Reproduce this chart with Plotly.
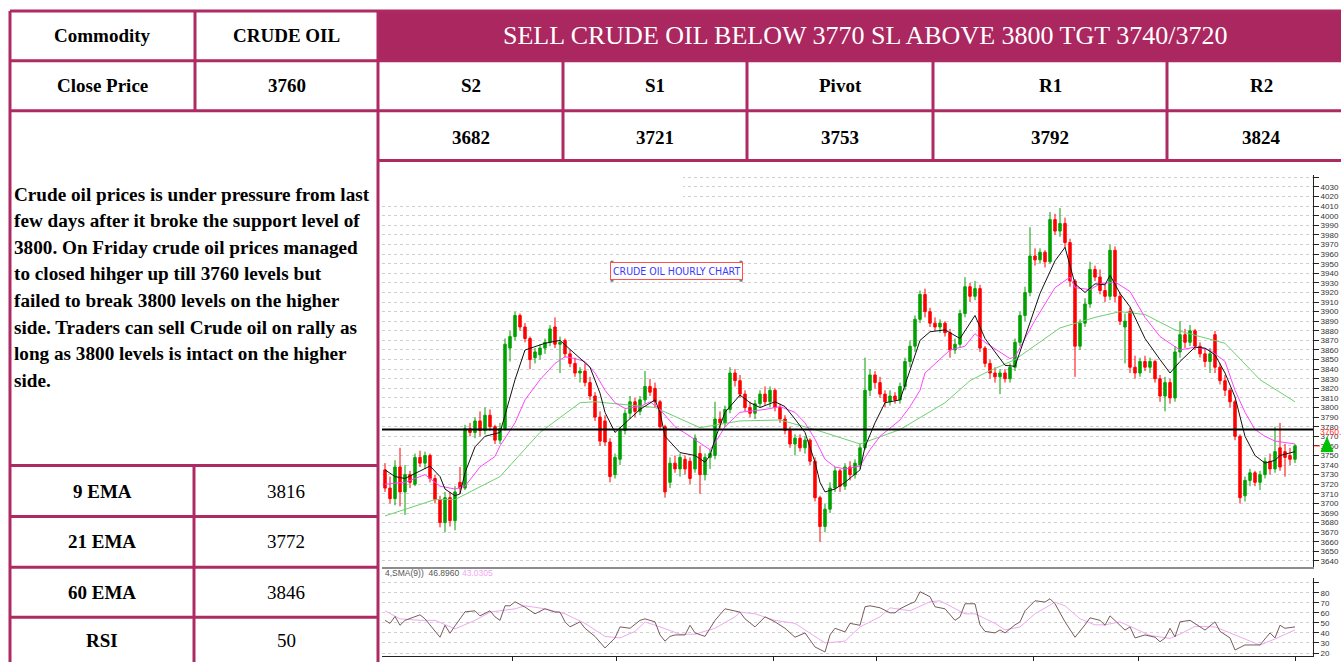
import plotly.graph_objects as go

W, H = 1341, 664

# ---------------- table content ----------------
commodity_label = "Commodity"
commodity_value = "CRUDE OIL"
close_label = "Close Price"
close_value = "3760"
headline = "SELL CRUDE OIL BELOW 3770 SL ABOVE 3800 TGT 3740/3720"
level_names = ["S2", "S1", "Pivot", "R1", "R2"]
level_values = ["3682", "3721", "3753", "3792", "3824"]
indicator_names = ["9 EMA", "21 EMA", "60 EMA", "RSI"]
indicator_values = ["3816", "3772", "3846", "50"]
commentary = [
    "Crude oil prices is under pressure from last",
    "few days after it broke the support level of",
    "3800. On Friday crude oil prices managed",
    "to closed hihger up till 3760 levels but",
    "failed to break 3800 levels on the higher",
    "side. Traders can sell Crude oil on rally as",
    "long as 3800 levels is intact on the higher",
    "side.",
]
chart_title = "CRUDE OIL HOURLY CHART"
rsi_caption = "4,SMA(9))  46.8960"
rsi_sma_caption = "43.0305"
last_price = 3760
last_price_label = "3760.0"
hline_level = 3777

# ---------------- hourly candles ----------------
opens = [3735,3716,3705,3738,3712,3730,3720,3748,3742,3750,
         3726,3704,3680,3706,3682,3722,3716,3778,3774,3786,
         3776,3792,3780,3766,3778,3862,3874,3896,3884,3872,
         3852,3855,3862,3868,3884,3866,3870,3856,3846,3836,
         3838,3826,3812,3790,3786,3764,3730,3746,3776,3794,
         3806,3796,3808,3822,3820,3806,3780,3722,3742,3736,
         3746,3744,3736,3752,3730,3748,3750,3788,3784,3798,
         3836,3828,3814,3800,3794,3804,3814,3806,3818,3800,
         3788,3776,3762,3768,3758,3766,3744,3706,3676,3694,
         3716,3734,3718,3738,3730,3740,3758,3818,3834,3826,
         3814,3806,3812,3808,3822,3848,3864,3892,3918,3900,
         3888,3884,3888,3878,3860,3866,3898,3926,3916,3924,
         3862,3846,3836,3832,3836,3830,3842,3868,3896,3920,
         3958,3954,3962,3952,3996,3984,3992,3972,3932,3864,
         3888,3908,3944,3936,3922,3916,3964,3916,3884,3900,
         3842,3836,3848,3842,3848,3830,3812,3826,3810,3858,
         3876,3868,3880,3864,3856,3848,3876,3842,3828,3818,
         3806,3770,3708,3724,3732,3722,3730,3744,3736,3758,
         3754,3750,3746]
highs = [3742,3728,3745,3758,3740,3734,3752,3755,3754,3752,
         3730,3708,3712,3712,3718,3738,3782,3784,3790,3796,
         3800,3798,3782,3784,3872,3880,3900,3898,3888,3874,
         3862,3866,3872,3886,3894,3874,3872,3860,3852,3842,
         3846,3832,3816,3796,3792,3768,3752,3780,3798,3812,
         3810,3812,3838,3830,3826,3808,3782,3748,3750,3752,
         3750,3748,3772,3760,3752,3756,3806,3796,3802,3842,
         3840,3834,3818,3806,3808,3818,3822,3822,3820,3804,
         3792,3780,3772,3772,3770,3768,3748,3708,3700,3722,
         3738,3736,3742,3744,3746,3762,3852,3840,3838,3832,
         3818,3818,3816,3826,3852,3870,3896,3922,3924,3904,
         3894,3892,3890,3882,3872,3902,3936,3930,3932,3928,
         3864,3850,3842,3840,3840,3846,3872,3900,3926,3988,
         3966,3966,3964,4004,4002,4008,3998,3976,3934,3892,
         3914,3952,3948,3944,3928,3970,3968,3920,3898,3904,
         3854,3852,3854,3852,3850,3834,3832,3830,3864,3890,
         3882,3886,3882,3868,3862,3862,3880,3846,3834,3820,
         3808,3772,3728,3736,3734,3734,3748,3752,3780,3784,
         3762,3758,3762]
lows = [3712,3700,3698,3697,3688,3716,3718,3738,3736,3722,
        3700,3675,3670,3676,3672,3710,3714,3770,3768,3770,
        3772,3776,3762,3762,3776,3848,3870,3880,3868,3840,
        3846,3850,3856,3864,3862,3836,3852,3842,3832,3826,
        3822,3808,3786,3760,3760,3722,3726,3740,3772,3788,
        3790,3792,3804,3812,3800,3776,3706,3716,3732,3728,
        3730,3720,3732,3710,3724,3736,3746,3778,3780,3794,
        3822,3810,3796,3790,3788,3800,3802,3800,3796,3784,
        3772,3758,3750,3754,3752,3740,3702,3660,3670,3690,
        3712,3712,3714,3724,3726,3736,3756,3812,3820,3810,
        3800,3802,3804,3804,3818,3842,3858,3888,3894,3884,
        3880,3878,3874,3852,3856,3862,3894,3910,3912,3858,
        3842,3830,3826,3814,3826,3826,3838,3864,3890,3916,
        3948,3950,3946,3950,3980,3978,3966,3926,3832,3860,
        3884,3904,3932,3918,3910,3912,3910,3886,3846,3836,
        3830,3832,3838,3836,3826,3806,3796,3804,3806,3852,
        3862,3864,3860,3852,3842,3836,3836,3824,3812,3800,
        3766,3700,3702,3718,3718,3714,3726,3730,3732,3734,
        3728,3740,3742]
closes = [3716,3705,3738,3712,3730,3722,3748,3742,3750,3726,
          3704,3680,3706,3682,3712,3716,3778,3774,3786,3776,
          3792,3780,3766,3778,3866,3874,3896,3884,3872,3850,
          3858,3862,3868,3882,3866,3868,3856,3846,3836,3838,
          3826,3812,3790,3765,3764,3728,3748,3776,3794,3806,
          3796,3808,3822,3816,3806,3780,3712,3742,3736,3748,
          3736,3726,3768,3730,3748,3752,3788,3784,3798,3836,
          3828,3814,3800,3794,3804,3814,3806,3818,3800,3788,
          3776,3762,3768,3758,3766,3744,3706,3676,3694,3716,
          3734,3718,3738,3730,3742,3758,3818,3834,3826,3814,
          3806,3812,3808,3822,3848,3864,3892,3918,3900,3888,
          3884,3888,3878,3860,3866,3898,3926,3916,3924,3862,
          3846,3836,3832,3836,3830,3842,3868,3896,3920,3958,
          3954,3962,3952,3996,3984,3992,3972,3932,3864,3888,
          3908,3944,3936,3922,3916,3964,3916,3890,3890,3842,
          3836,3848,3842,3848,3830,3812,3826,3810,3858,3876,
          3868,3880,3864,3856,3848,3856,3842,3828,3818,3806,
          3770,3706,3724,3732,3722,3730,3744,3736,3754,3738,
          3748,3746,3760]
bar_index = list(range(len(closes)))

# ---------------- moving averages (read at sampled bars) ----------------
ema9_idx = [0,2,4,9,11,12,14,15,16,18,20,23,24,26,28,32,35,39,41,43,
            44,46,48,51,54,55,56,59,62,64,65,66,68,71,73,75,78,80,82,84,
            86,87,88,90,92,95,96,98,100,103,107,109,112,115,118,120,122,124,126,128,
            131,134,136,138,140,142,144,145,147,149,152,155,157,159,162,164,166,168,170,172,
            174,176,178,179,182]
ema9_val = [3735,3728,3726,3739,3728,3715,3708,3710,3732,3759,3770,3774,3792,3829,3860,3867,3870,3852,3842,3815,
            3795,3774,3784,3798,3808,3795,3770,3753,3750,3743,3750,3767,3795,3813,3805,3800,3806,3801,3788,3774,
            3743,3722,3712,3715,3722,3735,3759,3784,3805,3808,3870,3879,3881,3872,3896,3872,3858,3844,3843,3873,
            3919,3953,3967,3929,3920,3929,3928,3938,3919,3905,3872,3850,3836,3848,3863,3862,3855,3836,3811,3770,
            3750,3742,3745,3750,3754]
ema21_idx = [0,4,8,11,14,16,19,22,23,26,28,31,34,36,38,40,42,44,46,48,
             51,53,55,58,61,64,65,66,68,71,74,76,79,82,84,86,88,90,92,95,
             97,99,103,105,107,108,113,116,118,120,125,126,130,134,137,138,141,143,146,149,
             152,155,159,162,165,168,170,172,174,176,178,182]
ema21_val = [3720,3722,3730,3718,3715,3718,3738,3749,3760,3784,3808,3829,3846,3853,3851,3848,3836,3818,3805,3799,
             3801,3806,3798,3780,3770,3759,3756,3763,3780,3795,3797,3798,3801,3795,3784,3767,3746,3738,3736,3739,
             3756,3770,3787,3801,3818,3836,3860,3864,3877,3868,3851,3853,3891,3925,3936,3925,3923,3929,3931,3921,
             3894,3874,3860,3863,3860,3848,3818,3795,3777,3770,3765,3762]
ema60_idx = [0,10,14,23,31,39,42,54,63,71,79,86,95,103,112,117,120,126,135,142,147,152,158,164,168,175,182]
ema60_val = [3687,3704,3704,3728,3774,3805,3806,3800,3779,3786,3787,3777,3762,3777,3805,3828,3836,3850,3883,3894,
             3900,3897,3881,3873,3867,3829,3806]

# ---------------- RSI(14) and its SMA(9) ----------------
rsi_idx = [0,1,2,3,4,6,7,8,9,11,12,13,14,16,18,19,21,22,23,24,
           25,26,28,30,32,34,35,36,37,39,40,42,44,46,47,49,51,52,54,55,
           56,57,58,60,61,62,64,66,68,70,71,72,74,76,78,80,82,84,86,88,
           89,90,92,93,95,96,97,99,101,102,103,105,106,107,109,110,112,114,115,116,
           118,119,120,122,123,124,126,127,128,130,132,133,134,136,138,140,141,143,144,145,
           146,148,149,150,152,154,155,156,157,158,159,161,164,166,167,169,170,172,175,177,
           178,179,180,182]
rsi_val = [52.5,49.5,56.4,47.6,52.5,56,58,54,47.6,35.7,47.6,39.7,47,61,62,57,62,56,52.5,67,
           67,71,65.7,59,64,60.7,60.7,51,46,51,44.6,36.5,25,35,46,44.6,52.5,54,51,38,
           31.8,36.5,38,38,47.6,40,36.5,52.5,64,62,60.7,54,46,56,51,44.6,35.7,40,26,21,
           38,44.6,41,49.5,47.6,66,67,65,60,60,64,69,71,81,76,66,64,52.5,56,69,
           69,48,41.5,40,43,40,48,51,62,72,70.7,74,69,51,35.7,48,55,52.5,47.6,57,
           52.5,42.8,46,35,38,35.7,31.2,35,44.6,36,51,52.5,42.8,51,41.5,35,23,28,28,40,
           35,47.6,44.6,46]
sma_idx = [0,3,7,10,14,18,21,26,28,32,36,40,44,47,50,52,55,59,62,66,
           70,71,74,78,82,85,88,92,95,99,101,105,109,111,113,116,118,122,124,127,
           130,134,136,139,142,144,147,150,153,157,159,162,166,169,172,175,178,182]
sma_val = [62,54,52.5,52.5,44,52.5,60.7,64,67,64,59,49.5,36.5,35,41.5,51,46,38.7,38.7,44.6,
           56,60.7,59,52.5,49.5,40,30,31.8,46,56,65,62,71,72,67,59,59,49.5,43,46,
           59,70.7,67,54,48,48,51,44.6,37.5,34.5,38.7,46.5,46,40,34,27.8,34,43]
day_ticks = [25.5, 46.2, 77.7, 98.3, 129.7, 150.7, 182]
price_ticks = list(range(3640, 4041, 10))
price_ticktext = [str(v) for v in range(3640, 4031, 10)] + [""]
rsi_ticks = [20, 30, 40, 50, 60, 70, 80, 90]
rsi_ticktext = ["20", "30", "40", "50", "60", "70", "80", ""]

# ---------------- styling / geometry ----------------
BORDER = "#ad2a62"
HEAD_FILL = "#ab2760"
SERIF = "Liberation Serif, Times New Roman, serif"
SANS = "Liberation Sans, Arial, sans-serif"
NARROW = "Liberation Sans Narrow, DejaVu Sans Condensed, Arial Narrow, sans-serif"


def X(px):
    return px / W


def Y(py):
    return 1 - py / H


fig = go.Figure()

fig.add_trace(go.Candlestick(
    x=bar_index, open=opens, high=highs, low=lows, close=closes,
    increasing=dict(line=dict(color="#00a000", width=1), fillcolor="#00a000"),
    decreasing=dict(line=dict(color="#ff0000", width=1), fillcolor="#ff0000"),
    whiskerwidth=0, showlegend=False, hoverinfo="skip", xaxis="x", yaxis="y"))
fig.add_trace(go.Scatter(x=ema60_idx, y=ema60_val, mode="lines",
                         line=dict(color="#6fcf6f", width=1), showlegend=False, xaxis="x", yaxis="y"))
fig.add_trace(go.Scatter(x=ema21_idx, y=ema21_val, mode="lines",
                         line=dict(color="#ff44ff", width=1), showlegend=False, xaxis="x", yaxis="y"))
fig.add_trace(go.Scatter(x=ema9_idx, y=ema9_val, mode="lines",
                         line=dict(color="#111111", width=1), showlegend=False, xaxis="x", yaxis="y"))
fig.add_trace(go.Scatter(x=sma_idx, y=sma_val, mode="lines",
                         line=dict(color="#eeaaee", width=1), showlegend=False, xaxis="x2", yaxis="y2"))
fig.add_trace(go.Scatter(x=rsi_idx, y=rsi_val, mode="lines",
                         line=dict(color="#7a5c5c", width=1), showlegend=False, xaxis="x2", yaxis="y2"))

x_dom = [X(382), X(1313)]
x_rng = [-0.6, 185.6]
grid = dict(showgrid=True, gridcolor="#cfcfcf", griddash="dot", gridwidth=1)

fig.update_layout(
    width=W, height=H, margin=dict(l=0, r=0, t=0, b=0),
    paper_bgcolor="white", plot_bgcolor="white", showlegend=False,
    xaxis=dict(domain=x_dom, range=x_rng, anchor="y", showgrid=False, zeroline=False,
               showline=True, linecolor="#8c8c8c", linewidth=2, ticks="",
               showticklabels=False, rangeslider=dict(visible=False), fixedrange=True),
    yaxis=dict(domain=[Y(569), Y(176)], range=[3633.4, 4042], anchor="x", side="right",
               tickvals=price_ticks, ticktext=price_ticktext, ticks="outside", ticklen=5, tickcolor="#222",
               showline=True, linecolor="#222", linewidth=1, zeroline=False,
               tickfont=dict(family=SANS, size=8, color="#333"), **grid),
    xaxis2=dict(domain=x_dom, range=x_rng, anchor="y2", showgrid=False, zeroline=False,
                showline=True, linecolor="#222", linewidth=1, ticks="outside", ticklen=4,
                tickcolor="#222", tickvals=day_ticks, showticklabels=False),
    yaxis2=dict(domain=[Y(658), Y(580)], range=[17, 94.4], anchor="x2", side="right",
                tickvals=rsi_ticks, ticktext=rsi_ticktext, ticks="outside", ticklen=5,
                tickcolor="#222", showline=True, linecolor="#222", linewidth=1, zeroline=False,
                tickfont=dict(family=SANS, size=8, color="#333"), **grid),
)

shapes = []
# blank patch in the upper-left of the price pane (no grid there in the source chart)
shapes.append(dict(type="rect", xref="x", yref="y", x0=x_rng[0], x1=59.6, y0=4014, y1=4042,
                   fillcolor="white", line=dict(width=0), layer="between"))
# header fill
shapes.append(dict(type="rect", xref="paper", yref="paper", x0=X(378), x1=X(1341), y0=Y(61), y1=Y(11),
                   fillcolor=HEAD_FILL, line=dict(width=0), layer="above"))


def hline(y, x0, x1):
    shapes.append(dict(type="line", xref="paper", yref="paper", x0=X(x0), x1=X(x1), y0=Y(y), y1=Y(y),
                       line=dict(color=BORDER, width=3), layer="above"))


def vline(x, y0, y1):
    shapes.append(dict(type="line", xref="paper", yref="paper", x0=X(x), x1=X(x), y0=Y(y0), y1=Y(y1),
                       line=dict(color=BORDER, width=3), layer="above"))


hline(11, 10, 1341)
hline(61, 10, 1341)
hline(111, 10, 1341)
hline(161, 378, 1341)
row_lines = [467, 518, 569, 619]
for ry in row_lines:
    hline(ry, 10, 378)
vline(10, 11, 664)
vline(195, 11, 111)
vline(378, 11, 664)
vline(194, 467, 664)
col_edges = [378, 563, 747, 933, 1167, 1355]
for cx in col_edges[1:-1]:
    vline(cx, 61, 161)

# horizontal support line drawn on the chart
shapes.append(dict(type="line", xref="x", yref="y", x0=x_rng[0], x1=x_rng[1], y0=hline_level, y1=hline_level,
                   line=dict(color="black", width=2)))
# last price marker
shapes.append(dict(type="line", xref="paper", yref="y", x0=X(1314), x1=X(1320), y0=last_price, y1=last_price,
                   line=dict(color="#ff2020", width=1)))
shapes.append(dict(type="path", xref="paper", yref="paper",
                   path=f"M {X(1321)},{Y(453)} L {X(1327)},{Y(439)} L {X(1333)},{Y(453)} Z",
                   fillcolor="#00c000", line=dict(color="#00c000", width=1)))
# annotation box handles
for hx, hy in [(612, 263), (741, 263), (612, 281), (741, 281)]:
    shapes.append(dict(type="rect", xref="paper", yref="paper", x0=X(hx - 1.5), x1=X(hx + 1.5),
                       y0=Y(hy + 1.5), y1=Y(hy - 1.5), fillcolor="#777", line=dict(width=0), layer="above"))

fig.update_layout(shapes=shapes)

ann = []


def txt(x, y, s, size=19, bold=True, color="black", xanchor="center", family=SERIF, **kw):
    ann.append(dict(xref="paper", yref="paper", x=X(x), y=Y(y), text=(f"<b>{s}</b>" if bold else s),
                    showarrow=False, xanchor=xanchor, yanchor="middle",
                    font=dict(family=family, size=size, color=color), **kw))


txt(102.5, 36, commodity_label)
txt(286.5, 36, commodity_value)
txt(102.5, 86, close_label)
txt(286.5, 86, close_value)
txt(865, 36, headline, size=26, bold=False, color="white")
for k in range(5):
    cx = (col_edges[k] + col_edges[k + 1]) / 2
    txt(cx, 86, level_names[k])
    txt(cx, 138, level_values[k])
for k, line in enumerate(commentary):
    txt(12, 195 + k * 26.6, line, size=19.2, xanchor="left")
for k in range(4):
    top = row_lines[k]
    bottom = row_lines[k + 1] if k + 1 < len(row_lines) else 666
    cy = (top + bottom) / 2
    txt(102, cy, indicator_names[k])
    txt(286, cy, indicator_values[k], bold=False)

# chart texts
ann.append(dict(xref="paper", yref="paper", x=X(676.5), y=Y(272), text=chart_title, showarrow=False,
                xanchor="center", yanchor="middle", font=dict(family=NARROW, size=10.5, color="#3a3aff"),
                bordercolor="#ff5050", borderwidth=1, borderpad=2, bgcolor="white"))
txt(383, 575, rsi_caption, size=8.5, bold=False, color="#555", xanchor="left", family=SANS)
txt(460, 575, rsi_sma_caption, size=8.5, bold=False, color="#f0a8f0", xanchor="left", family=SANS)
txt(1318, 433, last_price_label, size=8.5, bold=False, color="#ff3030", xanchor="left", family=SANS)

fig.update_layout(annotations=ann)

fig.write_html("out.html", config={"displayModeBar": False},
               post_script="document.body.style.margin='0';document.body.style.overflow='hidden';")
